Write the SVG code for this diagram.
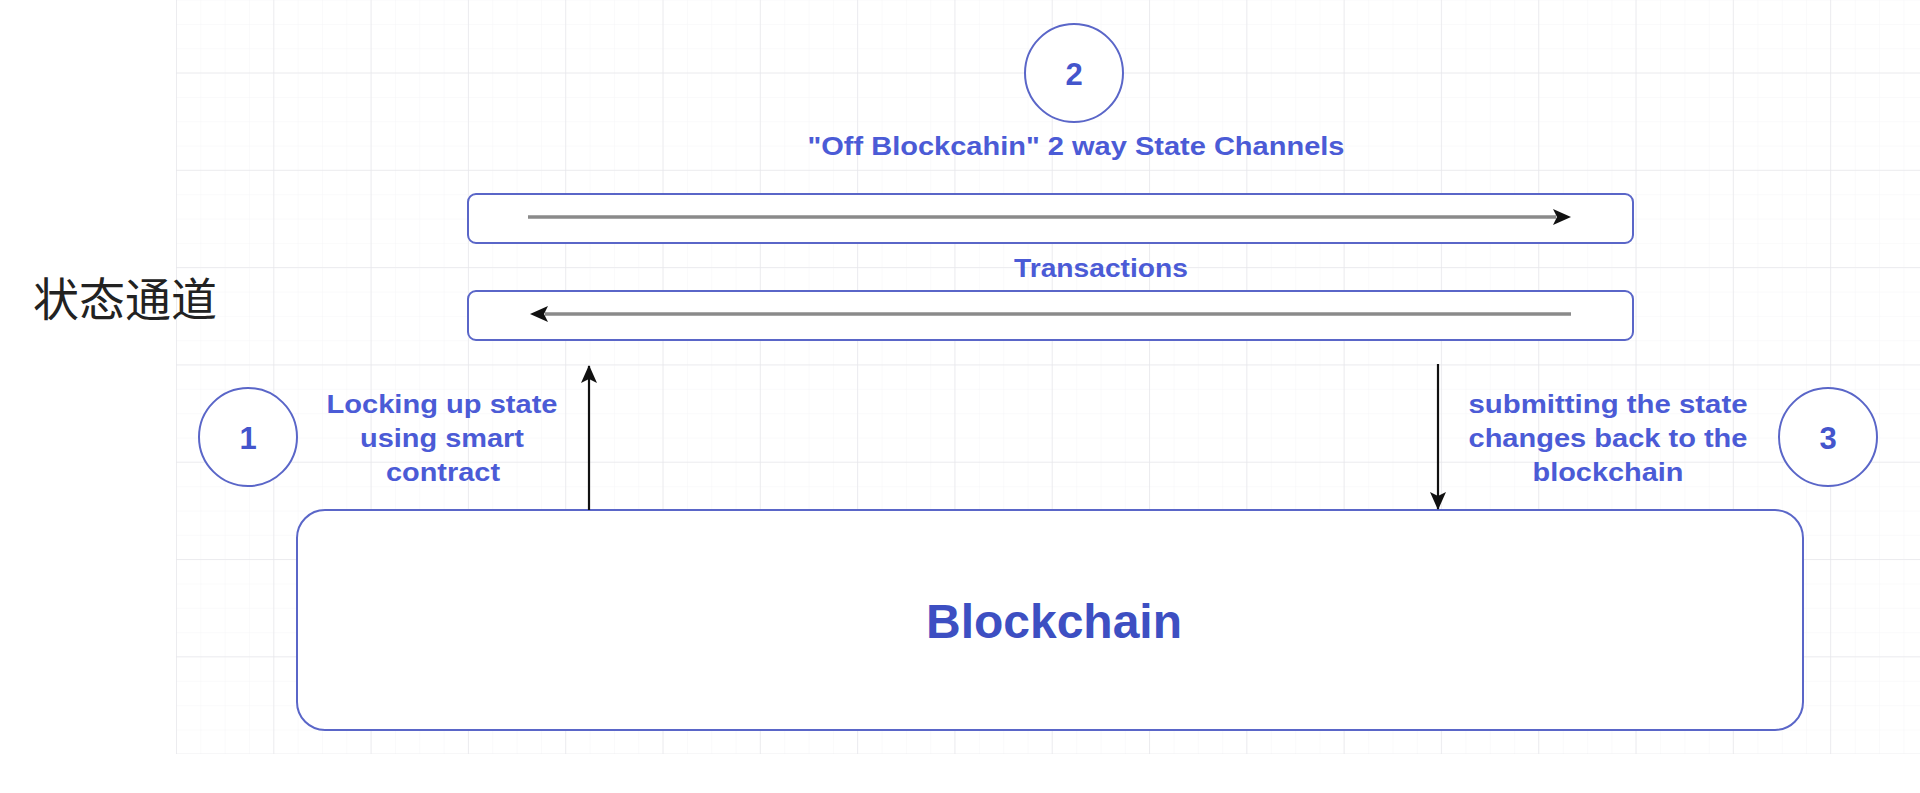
<svg xmlns="http://www.w3.org/2000/svg" width="1920" height="793" viewBox="0 0 1920 793">
<style>
.box{fill:#ffffff;stroke:#5a66c8;stroke-width:2}
.circ{fill:#ffffff;stroke:#5a66c8;stroke-width:2}
.lbl{font-family:"Liberation Sans",Arial,sans-serif;font-weight:bold;font-size:26px;fill:#4b5bd6;text-anchor:middle}
.num{font-family:"Liberation Sans",Arial,sans-serif;font-weight:bold;font-size:31px;fill:#4455cc;text-anchor:middle}
.gline{stroke:#8a8a8a;stroke-width:3.5;fill:none}
.bline{stroke:#111111;stroke-width:2.2;fill:none}
</style>
<defs>
<pattern id="minor" patternUnits="userSpaceOnUse" x="176" y="-0.4" width="24.33" height="24.33">
<path d="M0 0H24.33M0 0V24.33" stroke="#f5f5f7" stroke-width="1" fill="none"/>
</pattern>
<pattern id="major" patternUnits="userSpaceOnUse" x="176" y="-24.8" width="97.3" height="97.3">
<path d="M0 0H97.3M0 0V97.3" stroke="#e7e7eb" stroke-width="1.5" fill="none"/>
</pattern>
<marker id="ah" viewBox="0 0 18 16" refX="17" refY="8" markerWidth="18" markerHeight="16" markerUnits="userSpaceOnUse" orient="auto">
<path d="M0 0L18 8L0 16L4 8Z" fill="#111111"/>
</marker>
</defs>
<rect x="0" y="0" width="1920" height="793" fill="#ffffff"/>
<rect x="176" y="0" width="1744" height="754" fill="url(#minor)"/>
<rect x="176" y="0" width="1744" height="754" fill="url(#major)"/>

<text x="33" y="316" font-family="'Noto Sans CJK SC',sans-serif" font-size="46" fill="#222222" textLength="184" lengthAdjust="spacingAndGlyphs">状态通道</text>

<g id="step2">
<circle class="circ" cx="1074" cy="73" r="49"/>
<text class="num" x="1074" y="85">2</text>
</g>
<text class="lbl" x="1076" y="155" textLength="537" lengthAdjust="spacingAndGlyphs">"Off Blockcahin" 2 way State Channels</text>

<g id="channel-top">
<rect class="box" x="468" y="194" width="1165" height="49" rx="8"/>
</g>
<text class="lbl" x="1101" y="277" textLength="174" lengthAdjust="spacingAndGlyphs">Transactions</text>
<g id="channel-bottom">
<rect class="box" x="468" y="291" width="1165" height="49" rx="8"/>
</g>

<g id="step1">
<circle class="circ" cx="248" cy="437" r="49"/>
<text class="num" x="248" y="449">1</text>
</g>
<g id="label-lock">
<text class="lbl" x="442" y="413" textLength="231" lengthAdjust="spacingAndGlyphs">Locking up state</text>
<text class="lbl" x="442" y="447" textLength="164" lengthAdjust="spacingAndGlyphs">using smart</text>
<text class="lbl" x="443" y="481" textLength="114" lengthAdjust="spacingAndGlyphs">contract</text>
</g>

<g id="step3">
<circle class="circ" cx="1828" cy="437" r="49"/>
<text class="num" x="1828" y="449">3</text>
</g>
<g id="label-submit">
<text class="lbl" x="1608" y="413" textLength="279" lengthAdjust="spacingAndGlyphs">submitting the state</text>
<text class="lbl" x="1608" y="447" textLength="279" lengthAdjust="spacingAndGlyphs">changes back to the</text>
<text class="lbl" x="1608" y="481" textLength="151" lengthAdjust="spacingAndGlyphs">blockchain</text>
</g>

<g id="blockchain">
<rect class="box" x="297" y="510" width="1506" height="220" rx="28"/>
<text x="1054" y="638" font-family="'Liberation Sans',Arial,sans-serif" font-weight="bold" font-size="48" fill="#3d4fc2" text-anchor="middle" textLength="256" lengthAdjust="spacingAndGlyphs">Blockchain</text>
</g>

<g id="connectors">
<line class="gline" x1="528" y1="217" x2="1556" y2="217"/>
<path d="M1553 209L1571 217L1553 225L1557 217Z" fill="#111111"/>
<line class="gline" x1="1571" y1="314" x2="545" y2="314"/>
<path d="M548 306L530 314L548 322L544 314Z" fill="#111111"/>
<line class="bline" x1="589" y1="510" x2="589" y2="366" marker-end="url(#ah)"/>
<line class="bline" x1="1438" y1="364" x2="1438" y2="509" marker-end="url(#ah)"/>
</g>
</svg>
